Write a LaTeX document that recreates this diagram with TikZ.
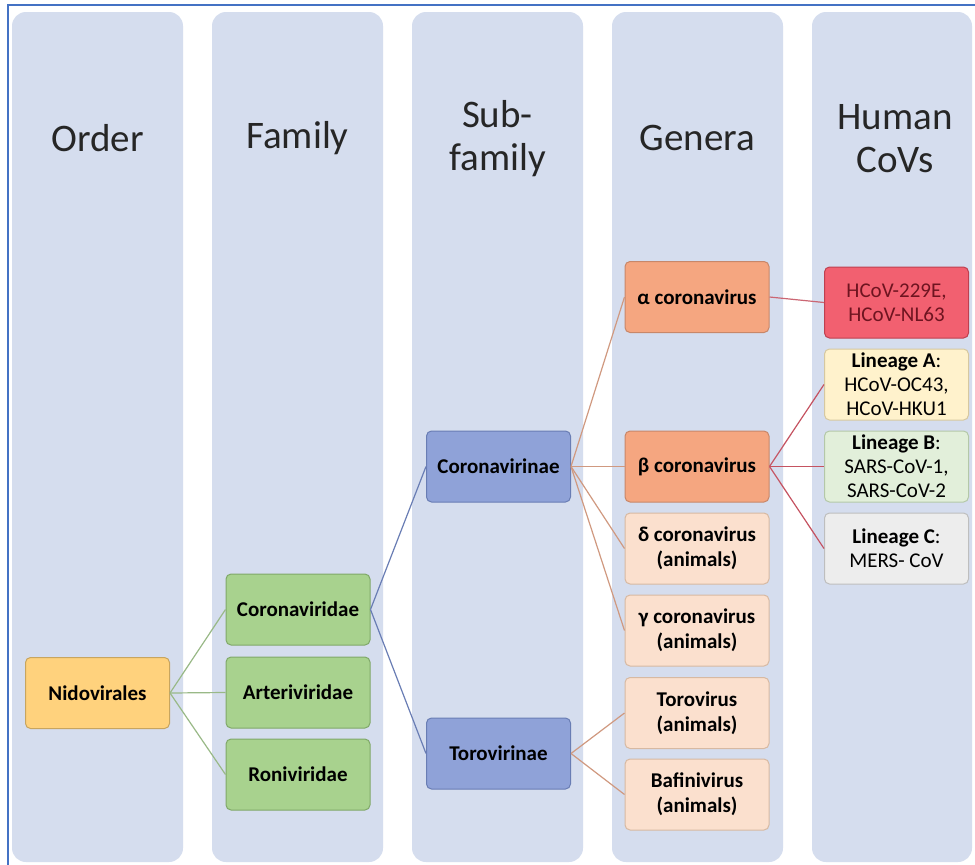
\documentclass[tikz,border=0pt]{standalone}
\usepackage{fontspec}
\setmainfont{Carlito}
\usepackage{tikz}

\definecolor{colbg}{RGB}{213,221,238}
\definecolor{frameblue}{RGB}{68,114,196}
\definecolor{nidofill}{RGB}{255,210,125}
\definecolor{nidoline}{RGB}{200,165,95}
\definecolor{greenfill}{RGB}{168,210,142}
\definecolor{greenline}{RGB}{128,168,105}
\definecolor{bluefill}{RGB}{143,162,216}
\definecolor{blueline}{RGB}{105,125,180}
\definecolor{salmonfill}{RGB}{245,166,128}
\definecolor{salmonline}{RGB}{200,135,105}
\definecolor{peachfill}{RGB}{251,224,206}
\definecolor{peachline}{RGB}{215,185,162}
\definecolor{redfill}{RGB}{242,96,112}
\definecolor{redline}{RGB}{190,64,80}
\definecolor{redtext}{RGB}{110,20,32}
\definecolor{yelfill}{RGB}{255,242,204}
\definecolor{yelline}{RGB}{214,200,160}
\definecolor{lgreenfill}{RGB}{226,239,218}
\definecolor{lgreenline}{RGB}{180,200,168}
\definecolor{grayfill}{RGB}{237,237,237}
\definecolor{grayline}{RGB}{190,190,190}

\tikzset{
  column/.style={fill=colbg, rounded corners=14pt},
  header/.style={align=center, text=black!85, font=\fontsize{39}{43}\selectfont},
  box/.style={draw, line width=1pt, rounded corners=5pt, minimum width=144pt,
    minimum height=71pt, align=center, inner sep=1pt,
    font=\fontsize{21}{25}\selectfont\bfseries},
  human/.style={box, font=\fontsize{21}{24}\selectfont},
  link/.style={line width=1.2pt}
}

\begin{document}
\begin{tikzpicture}[x=1pt,y=-1pt]
    \useasboundingbox[fill=white] (0,0) rectangle (975,865);
    % columns
    \foreach \cx in {12,212,412,612}
        \fill[column] (\cx,12) rectangle +(171,850);
    \fill[column] (812,12) rectangle (972,862);
    \draw[frameblue, line width=1.5pt] (8,865)--(8,5)--(975,5);

    \node[header] (hOrder) at (97.5,138) {Order};
    \node[header] (hFamily) at (297.5,138) {Family};
    \node[header] (hSub) at (497.5,139) {Sub-\\family};
    \node[header] (hGenera) at (697.5,138) {Genera};
    \node[header] (hHuman) at (895,139) {Human\\CoVs};

    % boxes
    \node[box, fill=nidofill, draw=nidoline] (nido) at (97.5,693) {Nidovirales};
    \node[box, fill=greenfill, draw=greenline] (coronaviridae) at (298,609.5) {Coronaviridae};
    \node[box, fill=greenfill, draw=greenline] (arteri) at (298,692.5) {Arteriviridae};
    \node[box, fill=greenfill, draw=greenline] (roni) at (298,774.5) {Roniviridae};
    \node[box, fill=bluefill, draw=blueline] (coronavirinae) at (498.5,466.5) {Coronavirinae};
    \node[box, fill=bluefill, draw=blueline] (torovirinae) at (498.5,753.5) {Torovirinae};
    \node[box, fill=salmonfill, draw=salmonline] (alpha) at (697,297) {α coronavirus};
    \node[box, fill=salmonfill, draw=salmonline] (beta) at (697,466.5) {β coronavirus};
    \node[box, fill=peachfill, draw=peachline] (delta) at (697,548.5) {δ coronavirus\\(animals)};
    \node[box, fill=peachfill, draw=peachline] (gamma) at (697,630.5) {γ coronavirus\\(animals)};
    \node[box, fill=peachfill, draw=peachline] (toro) at (697,713) {Torovirus\\(animals)};
    \node[box, fill=peachfill, draw=peachline] (bafini) at (697,794.5) {Bafinivirus\\(animals)};
    \node[human, fill=redfill, draw=redline, text=redtext] (hcovE) at (896.5,302.5) {HCoV-229E,\\HCoV-NL63};
    \node[human, fill=yelfill, draw=yelline] (linA) at (896.5,384.5) {\textbf{Lineage A}:\\HCoV-OC43,\\HCoV-HKU1};
    \node[human, fill=lgreenfill, draw=lgreenline] (linB) at (896.5,466.5) {\textbf{Lineage B}:\\SARS-CoV-1,\\SARS-CoV-2};
    \node[human, fill=grayfill, draw=grayline] (linC) at (896.5,548.5) {\textbf{Lineage C}:\\MERS- CoV};

    % links
    \foreach \n in {coronaviridae,arteri,roni}
        \draw[link, color=greenline!80] (nido.east)--(\n.west);
    \foreach \n in {coronavirinae,torovirinae}
        \draw[link, color=blueline] (coronaviridae.east)--(\n.west);
    \foreach \n in {alpha,beta,delta,gamma}
        \draw[link, color=salmonline!85] (coronavirinae.east)--(\n.west);
    \foreach \n in {toro,bafini}
        \draw[link, color=salmonline!85] (torovirinae.east)--(\n.west);
    \draw[link, color=redline!80] (alpha.east)--(hcovE.west);
    \foreach \n in {linA,linB,linC}
        \draw[link, color=redline!90] (beta.east)--(\n.west);
\end{tikzpicture}
\end{document}
